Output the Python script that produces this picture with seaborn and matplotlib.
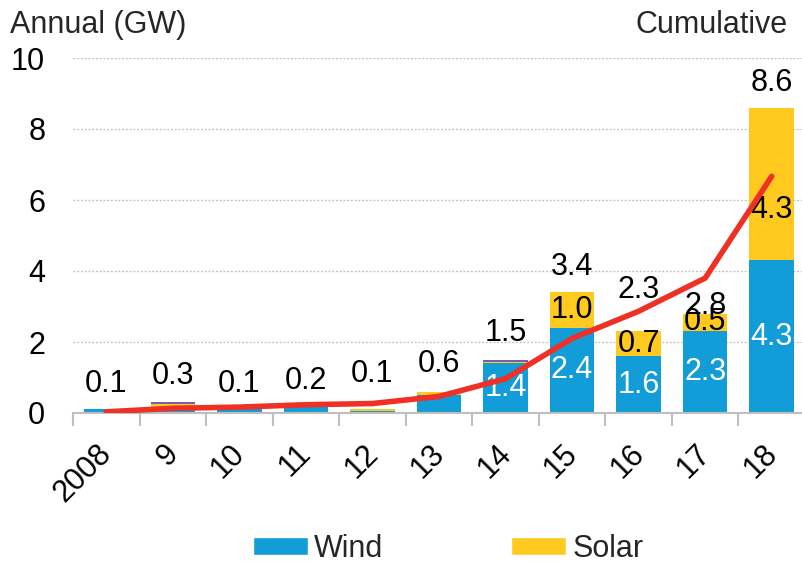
import numpy as np
import pandas as pd
import matplotlib
matplotlib.use("Agg")
import matplotlib.pyplot as plt
from matplotlib.patches import Patch
from matplotlib.ticker import FixedLocator
from matplotlib.transforms import ScaledTranslation
import seaborn as sns

# Annual capacity additions (GW) by year
years = ["2008", "9", "10", "11", "12", "13", "14", "15", "16", "17", "18"]
wind = [0.10, 0.18, 0.10, 0.20, 0.06, 0.50, 1.40, 2.40, 1.60, 2.30, 4.30]
solar = [0.00, 0.07, 0.00, 0.00, 0.04, 0.10, 0.05, 1.00, 0.70, 0.50, 4.30]
other = [0.00, 0.05, 0.00, 0.00, 0.00, 0.00, 0.05, 0.00, 0.00, 0.00, 0.00]
totals = [0.1, 0.3, 0.1, 0.2, 0.1, 0.6, 1.5, 3.4, 2.3, 2.8, 8.6]
# Cumulative capacity (GW), right-hand scale 0-30
cumulative = [0.1, 0.4, 0.5, 0.7, 0.8, 1.4, 2.9, 6.3, 8.6, 11.4, 20.0]

# vertical gap between each bar top and its total label (data units)
total_label_gap = [0.49, 0.52, 0.49, 0.48, 0.77, 0.55, 0.53, 0.48, 0.93, 0.0, 0.48]
solar_label_shift = [0, 0, 0, 0, 0, 0, 0, 0, 0, 0, -0.73]

BLUE = "#129CD8"
YELLOW = "#FFC91F"
PURPLE = "#7B5EA7"
RED = "#EE3124"
GRID = "#BFBFBF"
FS = 22

sns.set_style("white")
plt.rcParams["font.family"] = ["Liberation Sans", "DejaVu Sans"]

df = pd.DataFrame({"year": years, "wind": wind, "solar": solar, "other": other})
df["wind_solar"] = df["wind"] + df["solar"]
df["all"] = df["wind_solar"] + df["other"]

fig = plt.figure(figsize=(8.03, 5.62), dpi=100)
ax = fig.add_axes([73 / 803, 149 / 562, 732 / 803, 355 / 562])

# stacked bars drawn back to front as running totals
for col, colour in [("all", PURPLE), ("wind_solar", YELLOW), ("wind", BLUE)]:
    sns.barplot(data=df, x="year", y=col, color=colour, width=0.67,
                saturation=1, linewidth=0, edgecolor="none", ax=ax, zorder=2)

ax.set_ylim(0, 10)
ax.set_xlim(-0.5, len(years) - 0.5)
ax.set_yticks([0, 2, 4, 6, 8, 10])
ax.set_xlabel("")
ax.set_ylabel("")
ax.grid(axis="y", color=GRID, linestyle=(0, (1.5, 1.5)), linewidth=0.9, zorder=0)
ax.set_axisbelow(True)
for side in ["left", "right", "top"]:
    ax.spines[side].set_visible(False)
ax.spines["bottom"].set_color(GRID)
ax.spines["bottom"].set_linewidth(1.5)

ax.tick_params(axis="y", length=0, pad=20, labelsize=FS, labelcolor="black")
ax.tick_params(axis="x", which="major", length=0, pad=26, labelsize=FS,
               labelcolor="black")
ax.xaxis.set_minor_locator(FixedLocator(np.arange(-0.5, len(years), 1.0)))
ax.tick_params(axis="x", which="minor", length=9, width=1.5, color=GRID,
               direction="out", bottom=True)
ax.set_xticks(range(len(years)))
ax.set_xticklabels(years)
shift = ScaledTranslation(1 / 100, 0, fig.dpi_scale_trans)
for lab in ax.get_xticklabels():
    lab.set_rotation(45)
    lab.set_ha("right")
    lab.set_va("center")
    lab.set_rotation_mode("anchor")
    lab.set_transform(lab.get_transform() + shift)

# value labels
for i in range(len(years)):
    ax.text(i, totals[i] + total_label_gap[i], f"{totals[i]:.1f}",
            ha="center", va="baseline", fontsize=FS, color="black", zorder=5)
    if wind[i] >= 1.0:
        ax.text(i, wind[i] / 2, f"{wind[i]:.1f}", ha="center", va="center",
                fontsize=FS, color="white", zorder=5)
    if solar[i] >= 0.5:
        ax.text(i, wind[i] + solar[i] / 2 + solar_label_shift[i],
                f"{solar[i]:.1f}", ha="center", va="center", fontsize=FS,
                color="black", zorder=5)

# cumulative line on the secondary scale
ax2 = ax.twinx()
sns.lineplot(x=np.arange(len(years)), y=cumulative, ax=ax2, color=RED,
             linewidth=4, sort=False)
ax2.set_ylim(0, 30)
ax2.set_xlim(-0.5, len(years) - 0.5)
ax2.set_yticks([])
ax2.set_ylabel("")
for side in ["left", "right", "top", "bottom"]:
    ax2.spines[side].set_visible(False)

fig.text(10 / 803, 1 - 33 / 562, "Annual (GW)", ha="left", va="baseline",
         fontsize=FS)
fig.text(788 / 803, 1 - 33 / 562, "Cumulative", ha="right", va="baseline",
         fontsize=FS)

handles = [Patch(facecolor=BLUE, label="Wind"), Patch(facecolor=YELLOW, label="Solar")]
fig.legend(handles=handles, loc="center", bbox_to_anchor=(448 / 803, 1 - 549 / 562),
           ncol=2, frameon=False, fontsize=FS, handlelength=1.8,
           handleheight=0.55, handletextpad=0.2, columnspacing=4.2,
           borderpad=0.2)

fig.savefig("out.png", dpi=100)
